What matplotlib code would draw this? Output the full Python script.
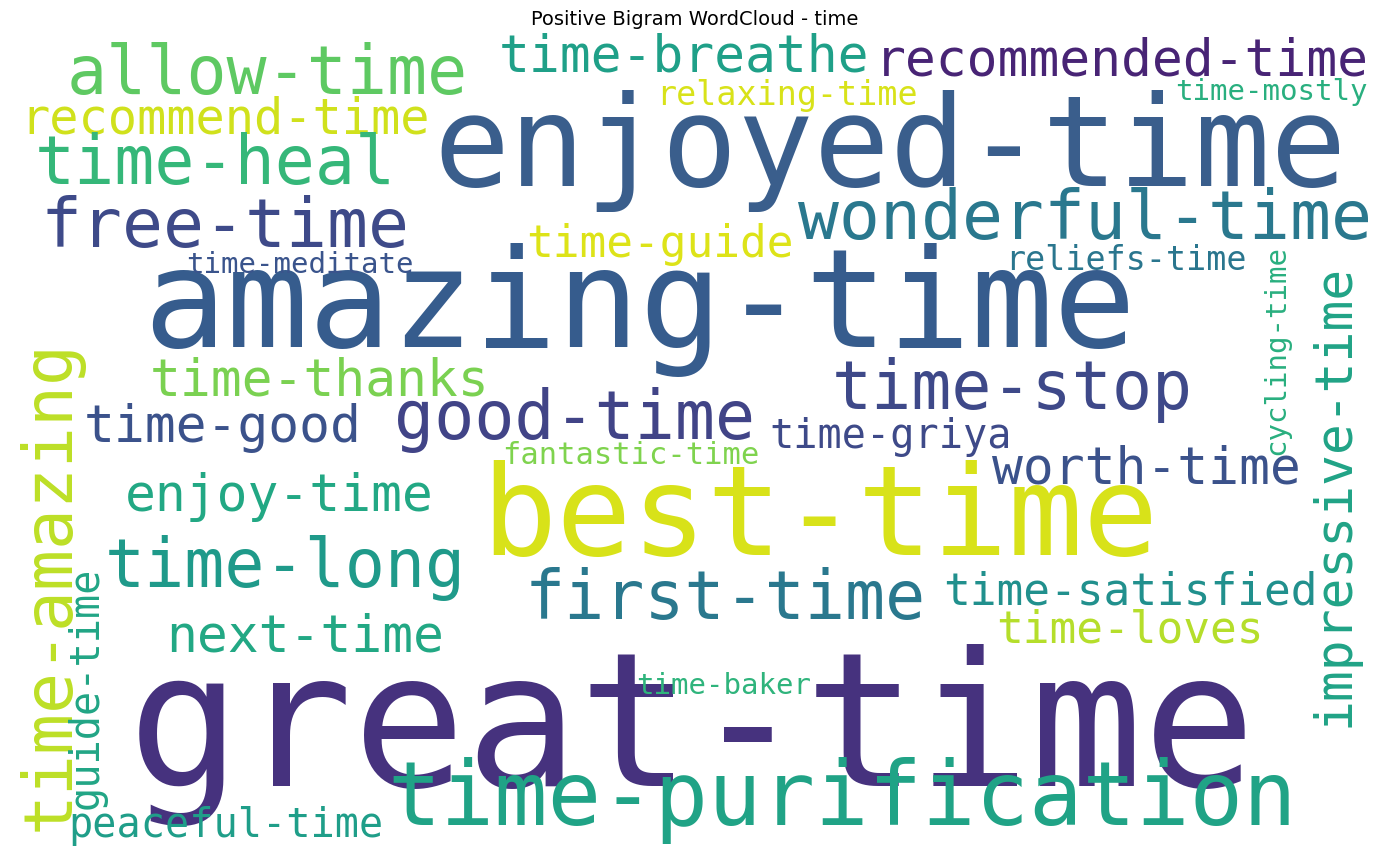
import matplotlib
matplotlib.use("Agg")
import matplotlib.pyplot as plt

# bigram words and their relative weights (font size in pt)
words = ["great-time", "amazing-time", "enjoyed-time", "best-time", "time-purification",
         "allow-time", "time-breathe", "recommended-time", "recommend-time", "time-heal",
         "free-time", "wonderful-time", "relaxing-time", "time-mostly", "time-guide",
         "time-meditate", "reliefs-time", "cycling-time", "impressive-time", "time-thanks",
         "time-stop", "time-amazing", "time-good", "good-time", "time-griya",
         "fantastic-time", "worth-time", "enjoy-time", "time-long", "first-time",
         "time-satisfied", "time-loves", "next-time", "guide-time", "time-baker",
         "peaceful-time"]
weights = [135, 99, 91, 90, 64, 48, 37, 37, 35, 48,
           49, 49, 24, 21, 32, 21, 24, 21, 37, 37,
           48, 49, 37, 48, 29, 22, 37, 37, 48, 48,
           32, 32, 37, 29, 21, 29]

# layout (pixel centre x, centre y, rotation) and colours
layout = [(692, 735, 0), (640, 310, 0), (890, 150, 0), (820, 520, 0), (842, 800, 0),
          (267, 75, 0), (684, 57, 0), (1122, 62, 0), (225, 120, 0), (215, 165, 0),
          (225, 228, 0), (1085, 220, 0), (787, 95, 0), (1271, 92, 0), (660, 245, 0),
          (300, 265, 0), (1126, 260, 0), (1276, 350, 90), (1335, 495, 90), (320, 382, 0),
          (1012, 390, 0), (50, 585, 90), (223, 428, 0), (575, 420, 0), (891, 437, 0),
          (631, 455, 0), (1146, 470, 0), (279, 497, 0), (285, 568, 0), (725, 600, 0),
          (1130, 592, 0), (1130, 630, 0), (305, 637, 0), (87, 688, 90), (724, 686, 0),
          (226, 826, 0)]
colors = ["#46327e", "#365c8d", "#3a5e8c", "#d8e219", "#20a386",
          "#5ec962", "#1fa088", "#482475", "#d0e11c", "#35b779",
          "#3e4a89", "#2a788e", "#d8e219", "#29af7f", "#dde318",
          "#3a548c", "#2a768e", "#29af7f", "#20a386", "#7ad151",
          "#3e4989", "#bddf26", "#3b528b", "#414487", "#3e4a89",
          "#7fd34e", "#3b528b", "#22a884", "#1f9a8a", "#2a788e",
          "#21908d", "#b5de2b", "#22a884", "#21a585", "#2fb47c",
          "#1f9e89"]

fig = plt.figure(figsize=(13.89, 8.65), dpi=100)
ax = fig.add_axes([0, 0, 1, 1])
ax.set_xlim(0, 1389)
ax.set_ylim(865, 0)
ax.axis('off')

for w, s, (x, y, r), c in zip(words, weights, layout, colors):
    ax.text(x, y, w, fontsize=s, color=c, rotation=r, ha='center', va='center',
            family='DejaVu Sans Mono')

fig.text(0.5, 0.978, "Positive Bigram WordCloud - time", ha='center', va='center', fontsize=14)

plt.savefig("out.png", dpi=100)
